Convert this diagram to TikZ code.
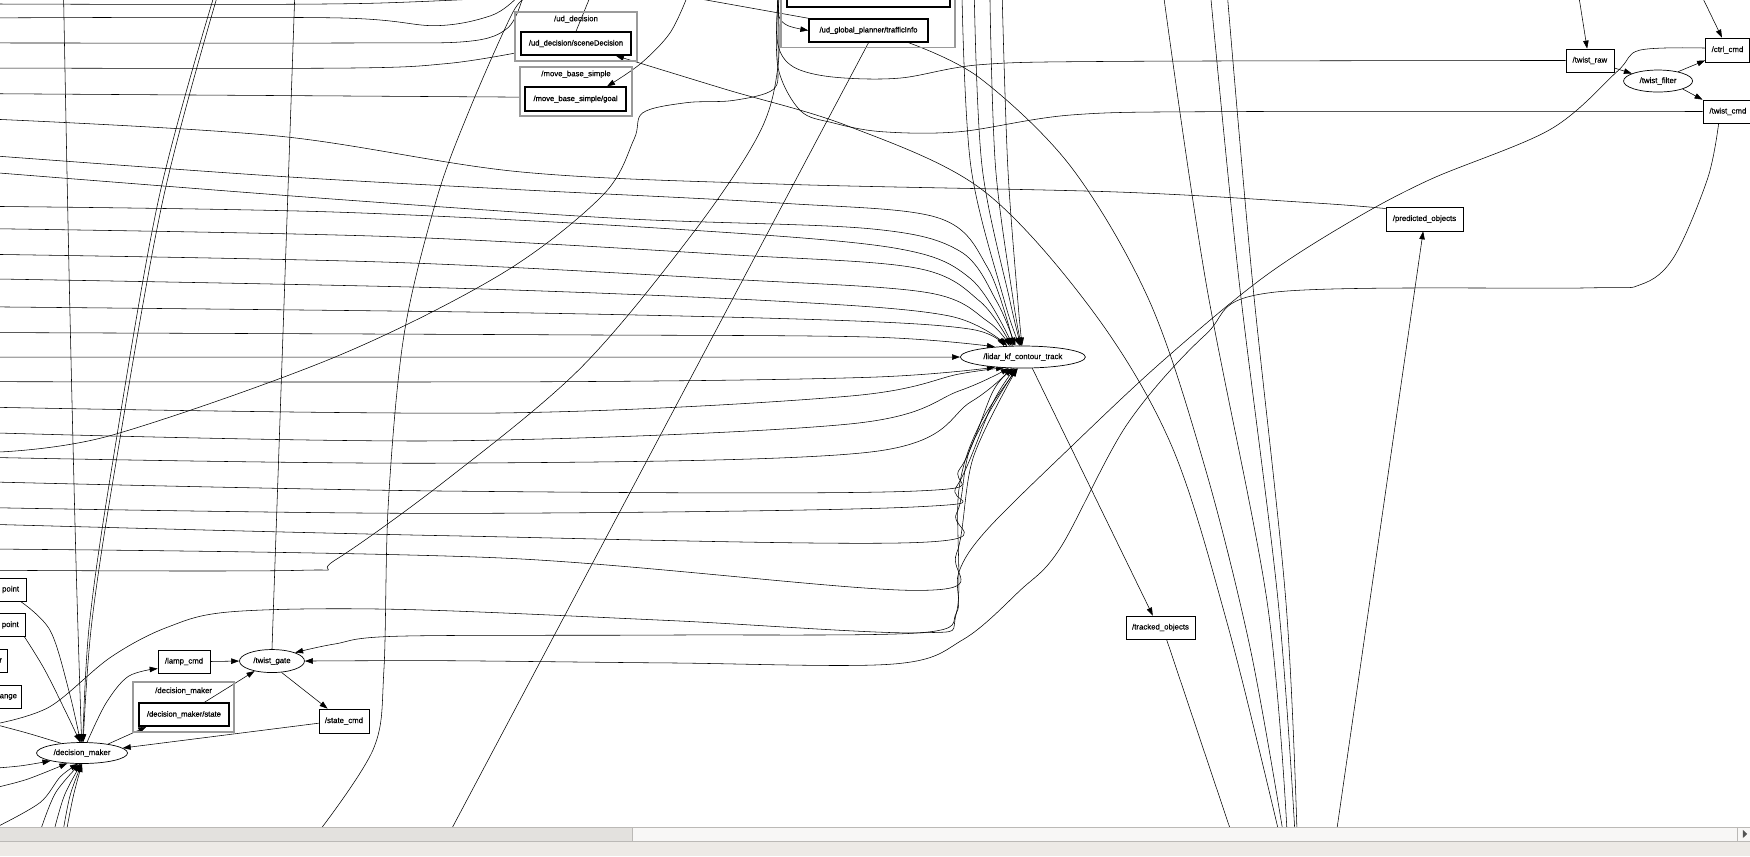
\documentclass[tikz,border=0pt]{standalone}
\usepackage{fontspec}
\setmainfont{Liberation Sans}
\newfontfamily\gfam{Liberation Sans}[FakeBold=0.3]
\newfontfamily\gbfam{Liberation Sans}[FakeBold=1.2]
\usetikzlibrary{arrows.meta,shapes.geometric}
\definecolor{clusterline}{HTML}{9A9A9A}
\definecolor{barline}{HTML}{BBB9B6}
\definecolor{sliderfill}{HTML}{E3E1DE}
\definecolor{troughfill}{HTML}{F8F7F6}
\definecolor{panelfill}{HTML}{EDEAE6}
\definecolor{arrowgrey}{HTML}{555555}
\newcommand{\gfont}{\gfam\fontsize{7.8}{9}\selectfont}
\newcommand{\gbfont}{\gbfam\fontsize{7.6}{9}\selectfont}
\pgfdeclarelayer{canvas}
\pgfdeclarelayer{edges}
\pgfsetlayers{canvas,edges,main}
\begin{document}
\begin{tikzpicture}[x=1.1161pt,y=-1.1161pt,
  topic/.style={draw,fill=white,rectangle,line width=0.7pt,inner sep=0pt,font=\gfont},
  ctopic/.style={topic,line width=1.4pt,font=\gbfont},
  lbox/.style={topic,text width=66pt,inner xsep=7pt,align=right,minimum height=23pt},
  rnode/.style={draw,fill=white,ellipse,line width=0.7pt,inner sep=0pt,font=\gfont},
  cluster/.style={draw=clusterline,line width=1.2pt,inner sep=0pt},
  lbl/.style={font=\gfont,inner sep=0pt},
  link/.style={line width=0.55pt},
  arr/.style={link,-{Triangle[length=8pt,width=5.5pt]}},
  every plot/.style={smooth,tension=0.55}]
\useasboundingbox (0,0) rectangle (1568,767);
\begin{pgfonlayer}{canvas}
\fill[white] (0,0) rectangle (1568,741);
\end{pgfonlayer}

% ---------- clusters ----------
\node[cluster,minimum width=122pt,minimum height=49pt] (cud) at (516.1,32.7) {};
\node[lbl] (cudlbl) at (516.1,17.2) {/ud\_decision};
\node[cluster,minimum width=112pt,minimum height=49pt] (cmb) at (516.1,82) {};
\node[lbl] (cmblbl) at (516.1,66.5) {/move\_base\_simple};
\node[cluster,minimum width=174pt,minimum height=60pt] (cgp) at (777.75,16) {};
\node[cluster,minimum width=101pt,minimum height=50pt] (cdm) at (164.5,633.4) {};
\node[lbl] (cdmlbl) at (164.5,619.2) {/decision\_maker};

% ---------- topics and nodes ----------
\node[ctopic,minimum width=110pt,minimum height=23pt] (scene) at (516.1,39) {/ud\_decision/sceneDecision};
\node[ctopic,minimum width=101pt,minimum height=24pt] (goal) at (515.7,88.8) {/move\_base\_simple/goal};
\node[ctopic,minimum width=163pt,minimum height=20pt] (gpnode) at (778,-2.7) {};
\node[ctopic,minimum width=119pt,minimum height=23pt] (traffic) at (778.2,27.3) {/ud\_global\_planner/trafficInfo};
\node[topic,minimum width=48pt,minimum height=23pt] (twraw) at (1424.5,54.2) {/twist\_raw};
\node[rnode,minimum width=69pt,minimum height=22pt] (twfilt) at (1485.6,72.6) {/twist\_filter};
\node[topic,minimum width=44pt,minimum height=24pt] (ctrl) at (1547.8,44.8) {/ctrl\_cmd};
\node[topic,minimum width=50pt,minimum height=23pt] (twcmd) at (1548.2,99.9) {/twist\_cmd};
\node[topic,minimum width=77pt,minimum height=24pt] (pred) at (1276.3,196.2) {/predicted\_objects};
\node[rnode,minimum width=125pt,minimum height=22pt] (lidar) at (916.5,319.9) {/lidar\_kf\_contour\_track};
\node[topic,minimum width=69pt,minimum height=23pt] (tracked) at (1039.8,562.2) {/tracked\_objects};
\node[lbox] (pt1) at (-12.5,528.2) {point};
\node[lbox] (pt2) at (-12.8,560) {point};
\node[lbox,inner xsep=5pt,text width=70pt] (rbox) at (-29.5,591.8) {r};
\node[lbox,inner xsep=4pt,text width=72pt] (ange) at (-17,624.5) {ange};
\node[rnode,minimum width=91pt,minimum height=21pt] (dm) at (73.5,674.7) {/decision\_maker};
\node[topic,minimum width=52pt,minimum height=23pt] (lamp) at (164.9,592.7) {/lamp\_cmd};
\node[rnode,minimum width=65pt,minimum height=23pt] (tgate) at (243.7,592.3) {/twist\_gate};
\node[ctopic,minimum width=90pt,minimum height=23pt] (dmstate) at (164.8,640.3) {/decision\_maker/state};
\node[topic,minimum width=50pt,minimum height=24pt] (statecmd) at (308.2,646) {/state\_cmd};

% ---------- free ends beyond the visible area ----------
\foreach \n/\yy in {w1/3.6,w2/16,w3/38.5,w4/61,w5/84,w6/107,w7/140,w8/155,w9/185,w10/205,
  w11/228,w12/250,w13/275,w14/298,w15/320,w16/342,w17/365,w18/388,w19/410,w20/432,
  w21/455,w22/470,w23/492,w24/511,wD/405,wA/648,wl1/650,wl2/688,wl3/705,wl4/740}
  {\coordinate (\n) at (-1,\yy);}
\foreach \n/\xx in {t1/430,t2/462,t3/468,t4/472,t5/528,t6/615,t7/57,t8/191,t9/194,t10/264,
  t11/697,t12/862,t13/873,t14/887,t15/898,t16/1043,t17/1085,t18/1100,t19/1415,t20/1526,
  t21/627,t22/698}
  {\coordinate (\n) at (\xx,-1);}
\foreach \n/\xx in {b1/37,b2/49,b3/57,b4/60,b5/288,b6/405,b7/1102,b8/1145,b9/1153,b10/1160,
  b11/1162,b12/1198,b13/1149}
  {\coordinate (\n) at (\xx,742);}
\coordinate (cudin) at ([yshift=-16.7pt]cud.west);
\coordinate (cmbin) at ([yshift=-5.6pt]cmb.west);

\begin{pgfonlayer}{edges}
% strands along the top left
\draw[link] plot coordinates {(w1) (200,4) (330,3) (t1)};
\draw[link] plot coordinates {(w2) (300,16) (390,23) (440,14) (t2)};
\draw[link] plot coordinates {(w3) (320,38.5) (420,37) (455,25) (t3)};
\draw[link] plot coordinates {(w4) (310,61) (400,57) (cudin)};
\draw[link] (w5) -- (cmbin);
\draw[link] plot coordinates {(w6) (250,122) (466,154) (700,165) (1000,172) (1180,182) (pred.165)};

% inputs of /lidar_kf_contour_track from the left
\draw[arr] plot coordinates {(w7) (250,158) (466,170) (700,182) (840,195) (885,240) (lidar.128)};
\draw[arr] plot coordinates {(w8) (307,179) (560,196) (780,205) (860,225) (893,270) (lidar.124)};
\draw[arr] plot coordinates {(w9) (300,190) (600,205) (800,222) (870,250) (lidar.132)};
\draw[arr] plot coordinates {(w10) (350,212) (650,228) (820,240) (878,270) (lidar.136)};
\draw[arr] plot coordinates {(w11) (350,235) (650,250) (830,262) (885,288) (lidar.140)};
\draw[arr] plot coordinates {(w12) (400,258) (700,270) (850,283) (lidar.145)};
\draw[arr] plot coordinates {(w13) (450,280) (750,287) (870,295) (lidar.150)};
\draw[arr] plot coordinates {(w14) (500,300) (780,302) (lidar.160)};
\draw[arr] (w15) -- (lidar.west);
\draw[arr] plot coordinates {(w16) (500,342) (780,338) (lidar.200)};
\draw[arr] plot coordinates {(w17) (450,370) (760,355) (860,335) (lidar.210)};
\draw[arr] plot coordinates {(w18) (400,395) (760,380) (860,350) (lidar.218)};
\draw[arr] plot coordinates {(w19) (400,415) (780,405) (870,360) (lidar.225)};
\draw[arr] plot coordinates {(w20) (400,440) (820,440) (860,420) (890,350) (lidar.232)};
\draw[arr] plot coordinates {(w21) (400,460) (824,454) (857,436) (890,360) (lidar.236)};
\draw[arr] plot coordinates {(w22) (400,480) (824,486) (857,460) (870,400) (lidar.240)};
\draw[arr] plot coordinates {(w23) (450,500) (824,529) (857,496) (872,410) (lidar.243)};
\draw[arr] plot coordinates {(wA) (45,633) (99,589) (150,562) (209,548) (358,546) (600,556) (824,567) (857,549) (859,440) (878,380) (lidar.246)};
% inputs of /lidar_kf_contour_track from above
\draw[arr] plot coordinates {(t12) (870,150) (900,270) (lidar.105)};
\draw[arr] plot coordinates {(t13) (880,150) (905,270) (lidar.100)};
\draw[arr] plot coordinates {(t14) (892,150) (908,270) (lidar.97)};
\draw[arr] plot coordinates {(t15) (903,150) (912,270) (lidar.94)};

% long strands through the middle
\draw[link] plot coordinates {(t4) (459,12) (420,100) (391,179) (362,300) (348,450) (344,600) (335,670) (b5)};
\draw[link] plot coordinates {(t11) (697,55) (693,80) (657,90) (615,92) (576,101) (568,125) (540,175) (450,245) (300,320) (100,390) (wD)};
\draw[link] plot coordinates {(w24) (269,511) (300,502) (400,430) (520,330) (620,210) (680,120) (697,60) (t11)};
\draw[link] plot coordinates {(t11) (697,40) (711,60) (746,69) (806,70) (878,58) (1000,55) (twraw.west)};
\draw[link] plot coordinates {(t11) (697,60) (717,99) (746,110) (790,118) (860,118) (960,103) (1100,100) (twcmd.west)};
\draw[link] (scene.north) -- (t5);
\draw[arr] plot coordinates {(t6) (600,30) (574,57) (goal.22)};
\draw[arr] plot coordinates {(b8) (1100,560) (1050,400) (980,280) (880,170) (760,113) (650,80) (scene.-17)};
\draw[link] plot coordinates {(traffic.-17) (878,70) (960,150) (1030,270) (1080,420) (1120,580) (b13)};
\draw[link] (traffic.south) -- (b6);
\draw[arr] plot coordinates {(t22) (698,15) (706,23) (traffic.west)};
\draw[link] (t21) -- (traffic.north west);
\draw[link] plot coordinates {(t16) (1080,250) (1135,537) (b9)};
\draw[link] plot coordinates {(t17) (1110,250) (1145,537) (b10)};
\draw[link] plot coordinates {(t18) (1122,250) (1152,537) (b11)};

% right-hand side
\draw[arr] (lidar.-50) -- (tracked.123);
\draw[link] (tracked.-63) -- (b7);
\draw[arr] (b12) -- (pred.-96);
\draw[arr] (t19) -- (twraw.103);
\draw[arr] (t20) -- (ctrl.114);
\draw[arr] (twraw.-17) -- (twfilt.164);
\draw[arr] (twfilt.25) -- (ctrl.205);
\draw[arr] (twfilt.-18) -- (twcmd.155);
\draw[arr] plot coordinates {(ctrl.175) (1469,45) (1449,64) (1389,116) (1281,161) (1209,199) (1130,250) (1040,325) (960,400) (884,475) (859,513) (857,549) (824,567) (600,569) (358,570) (300,577) (tgate.20)};
\draw[arr] plot coordinates {(twcmd.-128) (1530,160) (1500,230) (1470,255) (1420,258) (1140,262) (1080,300) (1010,380) (950,491) (914,529) (863,573) (800,595) (600,594) (400,592) (tgate.east)};

% around /decision_maker
\draw[arr] plot coordinates {(t7) (62,250) (68,500) (dm.92)};
\draw[arr] plot coordinates {(t8) (142,179) (100,420) (80,560) (dm.86)};
\draw[arr] plot coordinates {(t9) (146,179) (103,420) (82,560) (dm.84)};
\draw[link] (tgate.north) -- (t10);
\draw[arr] plot coordinates {(pt1.-19) (45,565) (62,620) (dm.98)};
\draw[arr] plot coordinates {(pt2.-17) (40,600) (60,640) (dm.100)};
\draw[arr] plot coordinates {(wl4) (36,719) (54,696) (dm.-110)};
\draw[arr] plot coordinates {(b1) (50,710) (dm.-100)};
\draw[arr] plot coordinates {(b2) (58,712) (dm.-95)};
\draw[arr] plot coordinates {(b3) (63,712) (dm.-92)};
\draw[arr] plot coordinates {(b4) (66,712) (dm.-90)};
\draw[arr] plot coordinates {(wl2) (20,686) (dm.194)};
\draw[arr] plot coordinates {(wl3) (25,698) (dm.215)};
\draw[link] plot coordinates {(wl1) (25,657) (dm.155)};
\draw[arr] plot coordinates {(dm.65) (95,630) (115,606) (lamp.195)};
\draw[arr] (dm.19) -- (dmstate.-162);
\draw[arr] (statecmd.185) -- (dm.7);
\draw[arr] (dmstate.31) -- (tgate.210);
\draw[arr] (lamp.east) -- (tgate.west);
\draw[arr] (tgate.-50) -- (statecmd.143);
\end{pgfonlayer}

% ---------- horizontal scroll bar ----------
\fill[panelfill] (0,753.5) rectangle (1568,767);
\fill[troughfill] (0,741) rectangle (1568,753.5);
\fill[sliderfill] (0,741) rectangle (567,753.5);
\draw[barline,line width=0.9pt] (0,741) -- (1568,741) (0,753.5) -- (1568,753.5) (567,741) -- (567,753.5) (1557,741) -- (1557,753.5);
\fill[arrowgrey] (1561.5,743.5) -- (1565.5,747.2) -- (1561.5,751) -- cycle;
\end{tikzpicture}
\end{document}
